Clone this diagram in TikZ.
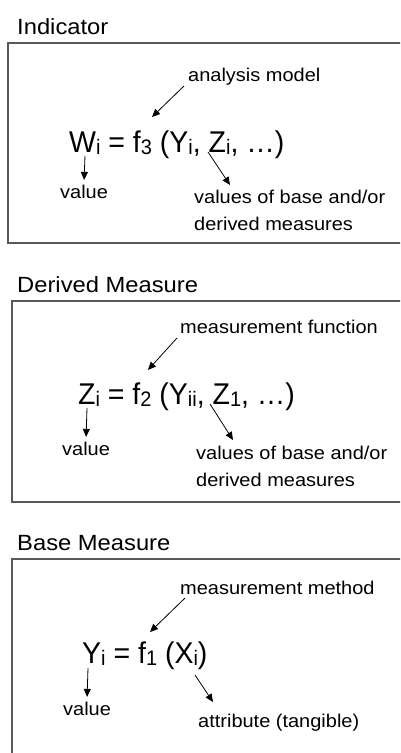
\documentclass[tikz,border=0pt]{standalone}
\usepackage{fontspec}
\setmainfont{Liberation Sans}[FakeStretch=1.08]
\newfontfamily\eqfont{Liberation Sans}[FakeStretch=0.95]
\usetikzlibrary{arrows.meta,positioning}
\newcommand{\idx}[1]{\raisebox{-2pt}{\fontsize{21}{21}\selectfont #1}}

\begin{document}
\begin{tikzpicture}[x=1pt,y=-1pt,
    panel/.style={draw=black!65,line width=1.3pt},
    title/.style={anchor=base west,inner sep=0pt,font=\fontsize{22}{26}\selectfont},
    note/.style={anchor=base west,inner sep=0pt,align=left,font=\fontsize{18.5}{27}\selectfont},
    formula/.style={anchor=base west,inner sep=0pt,font=\eqfont\fontsize{30}{32}\selectfont},
    arrow/.style={-{Triangle[length=8pt,width=7pt]},line width=0.8pt,draw=black}
  ]
  \useasboundingbox (0,0) rectangle (400,753);
  \clip (0,0) rectangle (400,753);
  \fill[white] (0,0) rectangle (400,753);

  % indicator
  \node[title] (indT) at (17,34) {Indicator};
  \draw[panel] (8,43) rectangle (420,243);
  \node[note] (indM) at (188,81) {analysis model};
  \node[formula] (indF) at (69,152) {W\idx{i} = f\idx{3} (Y\idx{i}, Z\idx{i}, …)};
  \node[note] (indV) at (60,198) {value};
  \node[note] (indA) at (194,230) {values of base and/or\\derived measures};
  \coordinate (indf) at (152,117);
  \coordinate (indW) at (85,156);
  \coordinate (indY) at (208,152);
  \coordinate (indAt) at (230,185);
  \draw[arrow] ([shift={(-4,5)}]indM.base west) -- (indf);
  \draw[arrow] (indW) -- ([yshift=4.5pt]indV.north);
  \draw[arrow] (indY) -- (indAt);

  % derived measure
  \node[title] (derT) at (17,292) {Derived Measure};
  \draw[panel] (12,301) rectangle (420,502);
  \node[note] (derM) at (180,333) {measurement function};
  \node[formula] (derF) at (78,404) {Z\idx{i} = f\idx{2} (Y\idx{ii}, Z\idx{1}, …)};
  \node[note] (derV) at (62,455) {value};
  \node[note] (derA) at (196,486) {values of base and/or\\derived measures};
  \coordinate (derf) at (148,370);
  \coordinate (derZ) at (87,408);
  \coordinate (derY) at (210,404);
  \coordinate (derAt) at (233,440);
  \draw[arrow] ([shift={(-3,5)}]derM.base west) -- (derf);
  \draw[arrow] (derZ) -- ([yshift=4.5pt]derV.north);
  \draw[arrow] (derY) -- (derAt);

  % base measure
  \node[title] (basT) at (17,550) {Base Measure};
  \draw[panel] (12,559) rectangle (420,775);
  \node[note] (basM) at (180,594) {measurement method};
  \node[formula] (basF) at (82,663) {Y\idx{i} = f\idx{1} (X\idx{i})};
  \node[note] (basV) at (63,715) {value};
  \node[note] (basA) at (198,727) {attribute (tangible)};
  \coordinate (basf) at (150,632);
  \coordinate (basY) at (88,668);
  \coordinate (basX) at (195,675);
  \coordinate (basAt) at (213,702);
  \draw[arrow] ([shift={(5,4)}]basM.base west) -- (basf);
  \draw[arrow] (basY) -- ([yshift=4.5pt]basV.north);
  \draw[arrow] (basX) -- (basAt);
\end{tikzpicture}
\end{document}
